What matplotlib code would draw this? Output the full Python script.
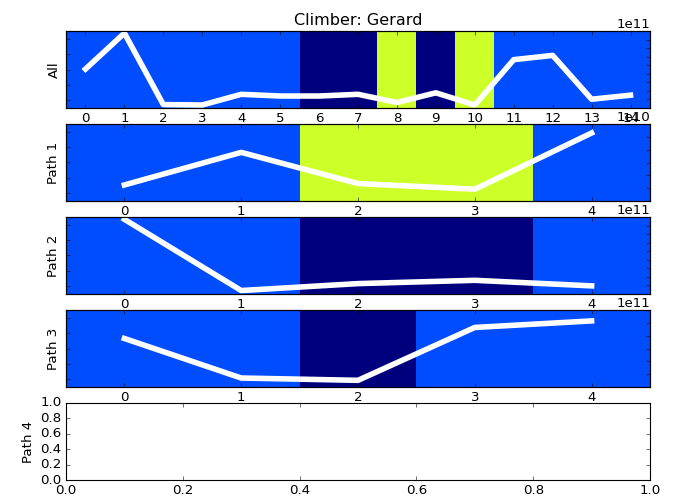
import numpy as np
import matplotlib
matplotlib.use('Agg')
import matplotlib.pyplot as plt

plt.style.use('classic')

# hidden state of every observation (index into jet, 0..5)
states_all = [1, 1, 1, 1, 1, 1, 0, 0, 3, 0, 3, 1, 1, 1, 1]
states_p1 = [1, 1, 3, 3, 1]
states_p2 = [1, 1, 0, 0, 1]
states_p3 = [1, 1, 0, 1, 1]

# observed values
values_all = [1.11e11, 1.95e11, 0.28e11, 0.27e11, 0.52e11, 0.48e11, 0.48e11,
              0.52e11, 0.33e11, 0.555e11, 0.27e11, 1.33e11, 1.43e11,
              0.405e11, 0.50e11]
values_p1 = [1.25e10, 3.79e10, 1.36e10, 0.92e10, 5.30e10]
values_p2 = [1.746e11, 0.081e11, 0.243e11, 0.32e11, 0.19e11]
values_p3 = [0.756e11, 0.14e11, 0.104e11, 0.928e11, 1.03e11]

names = ['All', 'Path 1', 'Path 2', 'Path 3', 'Path 4']
panels = [(states_all, values_all, (0.2e11, 2.0e11)),
          (states_p1, values_p1, (0.0, 6.0e10)),
          (states_p2, values_p2, (0.0, 1.8e11)),
          (states_p3, values_p3, (0.0, 1.2e11))]

W, H = 676, 501
fig = plt.figure(figsize=(W / 80., H / 80.), dpi=80)


def make_axes(i):
    top = 31 + i * 93
    return fig.add_axes([66. / W, 1 - (top + 77.) / H, 584. / W, 77. / H])


for i, (states, values, ylim) in enumerate(panels):
    ax = make_axes(i)
    n = len(states)
    ax.imshow(np.array(states)[np.newaxis, :], aspect='auto', cmap='jet',
              vmin=0, vmax=5, interpolation='nearest')
    ax.tick_params(labelleft=False)
    ax.set_ylabel(names[i])

    ax2 = ax.twinx()
    ax2.plot(np.arange(n), values, color='white', lw=5)
    ax2.set_ylim(ylim)
    ax2.tick_params(labelright=False)
    ax2.yaxis.get_offset_text().set_visible(True)

    ax.set_xlim(-0.5, n - 0.5)
    ax.set_xticks(np.arange(n))
    if i == 0:
        ax.set_title('Climber: Gerard')

ax = make_axes(4)
ax.set_ylabel(names[4])

fig.savefig('out.png', dpi=80)
